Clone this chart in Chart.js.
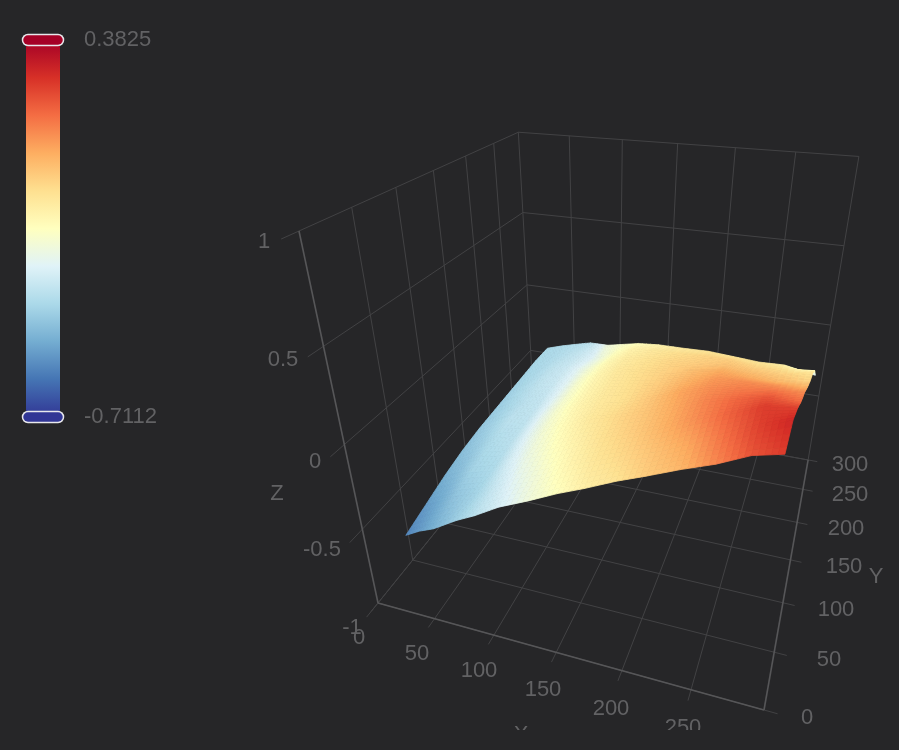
<!DOCTYPE html>
<html>
<head>
<meta charset="utf-8">
<style>
  html, body { margin: 0; padding: 0; background: #262628; }
  canvas { display: block; }
</style>
<script src="https://cdn.jsdelivr.net/npm/chart.js@4"></script>
</head>
<body>
<canvas id="chart" width="899" height="750" style="width:899px;height:750px"></canvas>
<script>
// axis ticks
const xTicks = [0, 50, 100, 150, 200, 250];
const yTicks = [0, 50, 100, 150, 200, 250, 300];
const zTicks = [-1, -0.5, 0, 0.5, 1];

// colour scale limits
const zMax = 0.3825;
const zMin = -0.7112;
const colorStops = ['#313695', '#4575b4', '#74add1', '#abd9e9', '#e0f3f8', '#ffffbf',
                    '#fee090', '#fdae61', '#f46d43', '#d73027', '#a50026'];

// surface mesh. its outline is not a clean rectangle so the front and back rows are listed
const xFront = [26, 38, 51, 70, 85, 102, 125, 145, 164, 184, 204, 225, 248, 269, 288];
const yFront = [14, 15, 14, 16, 16, 21, 21, 25, 26, 32, 33, 38, 33, 30, 28];
const xBack = [29, 43, 57, 70, 88, 101, 117, 132, 153, 178, 202, 225, 247, 268, 294];
const yBack = [279, 286, 291, 295, 277, 259, 256, 256, 250, 241, 236, 233, 230, 241, 283];
const zRows = [
  [-.569, -.525, -.481, -.405, -.350, -.295, -.219, -.164, -.109, -.066, -.011, .033, .120, .208, .252],
  [-.525, -.492, -.437, -.394, -.328, -.262, -.197, -.131, -.076, -.033, .011, .066, .153, .241, .295],
  [-.481, -.448, -.394, -.372, -.295, -.230, -.164, -.109, -.055, -.011, .044, .109, .186, .252, .241],
  [-.448, -.416, -.372, -.350, -.273, -.208, -.142, -.087, -.044, 0, .055, .120, .175, .208, .164],
  [-.427, -.394, -.350, -.339, -.262, -.197, -.131, -.087, -.055, 0, .066, .109, .142, .153, .109],
  [-.416, -.383, -.350, -.328, -.262, -.197, -.131, -.087, -.055, -.011, .044, .088, .109, .099, .033],
  [-.405, -.372, -.339, -.317, -.262, -.197, -.131, -.087, -.055, -.022, .022, .055, .055, .033, -.033],
  [-.394, -.372, -.339, -.317, -.262, -.208, -.142, -.098, -.066, -.033, -.011, .011, .011, -.011, -.076],
  [-.383, -.372, -.350, -.328, -.284, -.230, -.164, -.120, -.087, -.055, -.033, -.022, -.033, -.055, -.164],
  [-.383, -.372, -.361, -.350, -.284, -.219, -.186, -.164, -.131, -.098, -.076, -.076, -.076, -.109, -.295]
];

// text
const colorbarLabels = [['0.3825', 84, 40], ['-0.7112', 84, 417]];
const tickLabels = [
  ['1', 264, 242], ['0.5', 283, 360], ['0', 315, 462], ['-0.5', 322, 550], ['-1', 352, 628],
  ['0', 359, 638], ['50', 417, 654], ['100', 479, 671], ['150', 543, 690], ['200', 611, 709], ['250', 683, 728],
  ['0', 807, 718], ['50', 829, 660], ['100', 836, 610], ['150', 844, 567], ['200', 846, 529], ['250', 850, 495], ['300', 850, 465],
  ['Z', 277, 494], ['Y', 876, 577], ['X', 521, 735]
];

const BG = '#262628';
const TEXT = '#626264';
const GRID = '#424244';
const AXIS = '#565658';

// camera: where the box corners land on screen, and their relative depth
const O = [378, 603], U = [764, 710], V = [534, 410], W = [299, 231];
const A = 0.858, B = 1.431, C = 0.742;

function project(x, y, z) {
  const u = x / 300, v = y / 300, w = (z + 1) / 2;
  const d = 1 + u * (A - 1) + v * (B - 1) + w * (C - 1);
  return {
    x: (O[0] + u * (A * U[0] - O[0]) + v * (B * V[0] - O[0]) + w * (C * W[0] - O[0])) / d,
    y: (O[1] + u * (A * U[1] - O[1]) + v * (B * V[1] - O[1]) + w * (C * W[1] - O[1])) / d
  };
}

function hexToRgb(h) {
  return [1, 3, 5].map(i => parseInt(h.substr(i, 2), 16));
}

function colorFor(z) {
  let t = (z - zMin) / (zMax - zMin) * (colorStops.length - 1);
  t = Math.max(0, Math.min(colorStops.length - 1.001, t));
  const i = Math.floor(t), f = t - i;
  const a = hexToRgb(colorStops[i]), b = hexToRgb(colorStops[i + 1]);
  return `rgb(${a.map((c, k) => Math.round(c + (b[k] - c) * f)).join(',')})`;
}

const datasets = [];

function line(points, color, width, cap) {
  datasets.push({
    data: points,
    showLine: true,
    borderColor: color,
    borderWidth: width,
    borderCapStyle: cap || 'butt',
    pointRadius: 0,
    fill: false
  });
}

// floor and walls
xTicks.forEach(x => {
  if (x > 0) {
    line([project(x, -9, -1), project(x, 300, -1), project(x, 300, 1)], GRID, 1);
  }
});
line([project(0, -9, -1), project(0, 300, -1)], GRID, 1);
yTicks.forEach(y => {
  line([project(0, y, -1), project(309, y, -1)], GRID, 1);
  if (y > 0) line([project(0, y, -1), project(0, y, 1)], GRID, 1);
});
zTicks.forEach(z => {
  line([project(0, -15, z), project(0, 300, z), project(300, 300, z)], GRID, 1);
});
line([project(300, 300, -1), project(300, 300, 1)], GRID, 1);

// the three visible axes
line([project(0, 0, -1), project(0, 0, 1)], AXIS, 1.6);
line([project(0, 0, -1), project(300, 0, -1)], AXIS, 1.6);
line([project(300, 0, -1), project(300, 300, -1)], AXIS, 1.6);

// surface vertices, the plugin below paints between them
const nCols = zRows[0].length;
const nRows = zRows.length;
const surfacePoints = [];
zRows.forEach((row, j) => {
  const f = j / (nRows - 1);
  row.forEach((z, i) => {
    const x = xFront[i] + (xBack[i] - xFront[i]) * f;
    const y = yFront[i] + (yBack[i] - yFront[i]) * f;
    surfacePoints.push(Object.assign(project(x, y, z), { z: z }));
  });
});
datasets.push({ label: 'surface', data: surfacePoints, showLine: false, pointRadius: 0 });

// colour bar
const barX = 43;
function barY(z) {
  return 417 - (z - zMin) / (zMax - zMin) * 377;
}
line([{ x: barX, y: barY(zMin) }, { x: barX, y: barY(zMax) }], (ctx) => {
  const g = ctx.chart.ctx.createLinearGradient(0, barY(zMin), 0, barY(zMax));
  colorStops.forEach((c, i) => g.addColorStop(i / (colorStops.length - 1), c));
  return g;
}, 34);
[zMax, zMin].forEach((z) => {
  const pts = [{ x: barX - 15, y: barY(z) }, { x: barX + 15, y: barY(z) }];
  line(pts, '#e8e8ec', 12.5, 'round');
  line(pts, colorFor(z), 9.5, 'round');
});

// chart.js paints the first dataset last, we pushed them bottom to top
datasets.reverse();
const surfaceIndex = datasets.findIndex(d => d.label === 'surface');

const SUB = 5;
const surfacePlugin = {
  id: 'surfacePaint',
  afterDatasetsDraw(chart) {
    const pts = chart.getDatasetMeta(surfaceIndex).data;
    const c = chart.ctx;
    const at = (i, j) => pts[j * nCols + i];
    const zAt = (i, j) => zRows[j][i];
    const mix = (a, b, c2, d, s, t) => (a * (1 - s) + b * s) * (1 - t) + (c2 * (1 - s) + d * s) * t;
    c.save();
    c.lineWidth = 0.8;
    c.lineJoin = 'round';
    // back rows first
    for (let j = nRows - 2; j >= 0; j--) {
      for (let i = 0; i < nCols - 1; i++) {
        const p00 = at(i, j), p10 = at(i + 1, j), p01 = at(i, j + 1), p11 = at(i + 1, j + 1);
        for (let b = SUB - 1; b >= 0; b--) {
          for (let a = 0; a < SUB; a++) {
            const corner = (s, t) => ({
              x: mix(p00.x, p10.x, p01.x, p11.x, s, t),
              y: mix(p00.y, p10.y, p01.y, p11.y, s, t)
            });
            const s0 = a / SUB, s1 = (a + 1) / SUB, t0 = b / SUB, t1 = (b + 1) / SUB;
            const q = [corner(s0, t0), corner(s1, t0), corner(s1, t1), corner(s0, t1)];
            const zMid = mix(zAt(i, j), zAt(i + 1, j), zAt(i, j + 1), zAt(i + 1, j + 1), (s0 + s1) / 2, (t0 + t1) / 2);
            const col = colorFor(zMid);
            c.beginPath();
            c.moveTo(q[0].x, q[0].y);
            q.slice(1).forEach(p => c.lineTo(p.x, p.y));
            c.closePath();
            c.fillStyle = col;
            c.strokeStyle = col;
            c.fill();
            c.stroke();
          }
        }
      }
    }
    c.restore();
  }
};

const labelPlugin = {
  id: 'textLabels',
  afterDraw(chart) {
    const c = chart.ctx;
    c.save();
    c.beginPath();
    c.rect(0, 0, 899, 730);
    c.clip();
    c.fillStyle = TEXT;
    c.font = '22px "Liberation Sans", Arial, sans-serif';
    c.textBaseline = 'middle';
    c.textAlign = 'left';
    colorbarLabels.forEach(l => c.fillText(l[0], l[1], l[2]));
    c.textAlign = 'center';
    tickLabels.forEach(l => c.fillText(l[0], l[1], l[2]));
    c.restore();
  }
};

const bgPlugin = {
  id: 'bg',
  beforeDraw(chart) {
    chart.ctx.fillStyle = BG;
    chart.ctx.fillRect(0, 0, chart.width, chart.height);
  }
};

new Chart(document.getElementById('chart'), {
  type: 'scatter',
  data: { datasets: datasets },
  options: {
    responsive: false,
    animation: false,
    devicePixelRatio: 1,
    layout: { padding: 0 },
    plugins: { legend: { display: false }, tooltip: { enabled: false } },
    scales: {
      x: { type: 'linear', min: 0, max: 899, display: false },
      y: { type: 'linear', min: 0, max: 750, reverse: true, display: false }
    }
  },
  plugins: [bgPlugin, surfacePlugin, labelPlugin]
});
</script>
</body>
</html>
